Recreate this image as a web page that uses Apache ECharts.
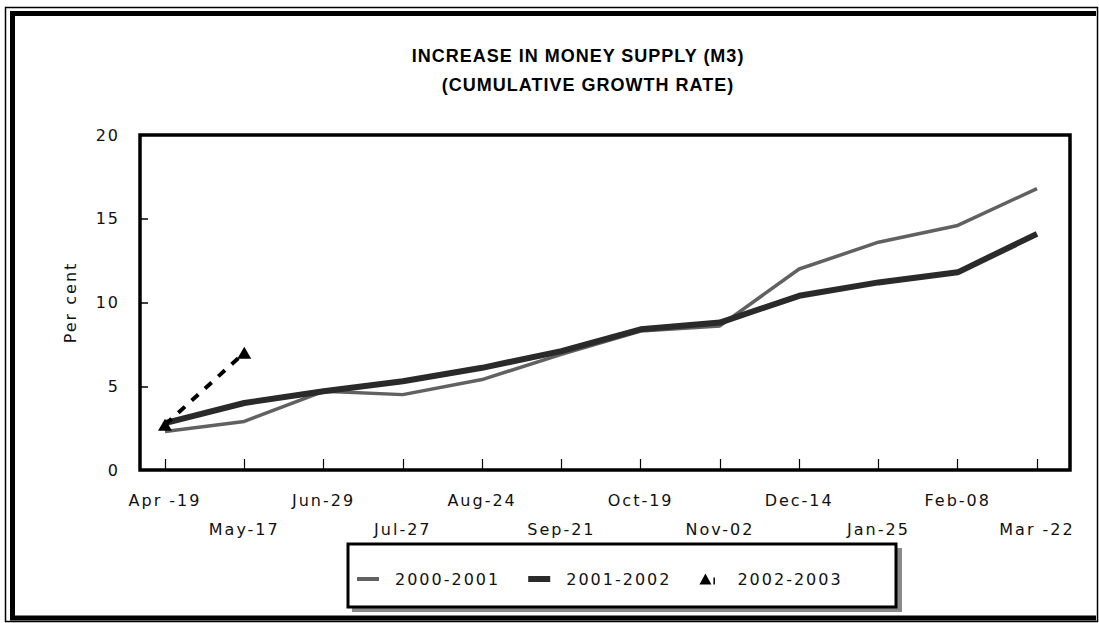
<!DOCTYPE html>
<html>
<head>
<meta charset="utf-8">
<title>Increase in money supply (M3)</title>
<script src="https://cdn.jsdelivr.net/npm/echarts@6/dist/echarts.min.js"></script>
<style>
  html, body { margin: 0; padding: 0; background: #fff; }
  #main { width: 1099px; height: 623px; }
  /* the original print has loosely spaced lettering */
  #main text { letter-spacing: 2px; }
  #main text[style*="bold"] { letter-spacing: 1px; }
</style>
</head>
<body>
<div id="main"></div>
<script>
// week ending dates (x axis)
var weeks = ['Apr -19', 'May-17', 'Jun-29', 'Jul-27', 'Aug-24', 'Sep-21',
             'Oct-19', 'Nov-02', 'Dec-14', 'Jan-25', 'Feb-08', 'Mar -22'];

// cumulative growth rate, per cent
var growth0001 = [2.3, 2.9, 4.7, 4.5, 5.4, 6.9, 8.3, 8.6, 12.0, 13.6, 14.6, 16.8];
var growth0102 = [2.8, 4.0, 4.7, 5.3, 6.1, 7.1, 8.4, 8.8, 10.4, 11.2, 11.8, 14.1];
var growth0203 = [2.7, 7.0];

var seriesNames = ['2000-2001', '2001-2002', '2002-2003'];
var yMin = 0, yMax = 20, yStep = 5;

var tickFont = 'DejaVu Sans';

var option = {
    animation: false,
    backgroundColor: '#fff',
    title: [
        {
            text: 'INCREASE IN MONEY SUPPLY (M3)',
            left: 573, top: 42, textAlign: 'center',
            textStyle: { fontFamily: 'Liberation Sans', fontWeight: 'bold', fontSize: 18, color: '#000' }
        },
        {
            text: '(CUMULATIVE GROWTH RATE)',
            left: 583, top: 71, textAlign: 'center',
            textStyle: { fontFamily: 'Liberation Sans', fontWeight: 'bold', fontSize: 18, color: '#000' }
        }
    ],
    grid: {
        left: 165, right: 62, top: 135, bottom: 153,
        outerBoundsMode: 'none'
    },
    xAxis: {
        type: 'category',
        data: weeks,
        boundaryGap: false,
        axisLine: { show: false },
        axisTick: { show: true, inside: true, length: 11, interval: 0, lineStyle: { color: '#000', width: 1.2 } },
        axisLabel: {
            interval: 0, margin: 16, color: '#111',
            fontFamily: tickFont, fontSize: 16, lineHeight: 29,
            formatter: function (v, i) { return i % 2 ? '\n' + v : v; }
        },
        splitLine: { show: false }
    },
    yAxis: {
        type: 'value',
        min: yMin, max: yMax, interval: yStep,
        offset: 25,
        name: 'Per cent',
        nameLocation: 'middle',
        nameGap: 62,
        nameTextStyle: { fontFamily: tickFont, fontSize: 16, color: '#111' },
        axisLine: { show: false },
        axisTick: { show: true, inside: true, length: 8, lineStyle: { color: '#000', width: 1.5 } },
        axisLabel: { margin: 20, color: '#111', fontFamily: tickFont, fontSize: 16 },
        splitLine: { show: false }
    },
    legend: {
        left: 357, top: 571,
        orient: 'horizontal',
        padding: 0,
        itemWidth: 33, itemHeight: 14, itemGap: 46,
        textStyle: { fontFamily: tickFont, fontSize: 16, color: '#111' },
        data: [
            // the trailing move widens each icon box so the label sits further right
            { name: seriesNames[0], icon: 'path://M0,0H22V4H0Z M33,4' },
            { name: seriesNames[1], icon: 'path://M0,0H22V6H0Z M33,6' },
            { name: seriesNames[2], icon: 'path://M0,11L6,0L12,11Z M14,4H15.5V11H14Z M33,11' }
        ]
    },
    graphic: [
        // outer double frame
        { type: 'rect', silent: true, z: -10,
          shape: { x: 5.5, y: 7.5, width: 1092, height: 614 },
          style: { fill: 'none', stroke: '#000', lineWidth: 1.5 } },
        { type: 'polyline', silent: true, z: -10,
          shape: { points: [[1096, 13.5], [12.5, 13.5], [12.5, 618], [1096, 618]] },
          style: { fill: 'none', stroke: '#000', lineWidth: 5 } },
        // plot frame
        { type: 'rect', silent: true, z: -5,
          shape: { x: 140, y: 135, width: 930, height: 335 },
          style: { fill: 'none', stroke: '#000', lineWidth: 3.5 } },
        // legend box with its grey drop shadow
        { type: 'rect', silent: true, z: -8,
          shape: { x: 352, y: 548, width: 550, height: 64 },
          style: { fill: '#8a8a8a' } },
        { type: 'rect', silent: true, z: -7,
          shape: { x: 348, y: 544, width: 548, height: 63 },
          style: { fill: '#fff', stroke: '#000', lineWidth: 3 } }
    ],
    series: [
        {
            name: seriesNames[0], type: 'line', data: growth0001,
            symbol: 'none', color: '#616161',
            lineStyle: { width: 3.5, color: '#616161' }, z: 2
        },
        {
            name: seriesNames[1], type: 'line', data: growth0102,
            symbol: 'none', color: '#2a2a2a',
            lineStyle: { width: 6, color: '#2a2a2a' }, z: 3
        },
        {
            name: seriesNames[2], type: 'line', data: growth0203,
            symbol: 'triangle', symbolSize: [14, 12], showAllSymbol: true,
            color: '#000',
            itemStyle: { color: '#000' },
            lineStyle: { width: 4, color: '#000', type: [9, 9] }, z: 4
        }
    ]
};

echarts.init(document.getElementById('main'), null, { renderer: 'svg' }).setOption(option);
</script>
</body>
</html>
